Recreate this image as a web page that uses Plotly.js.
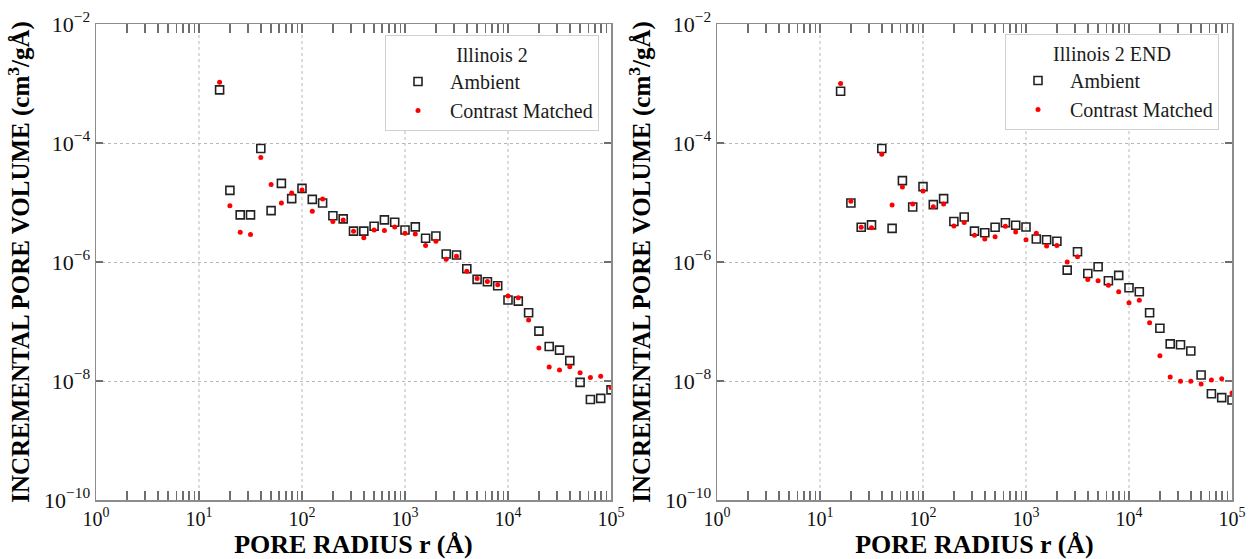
<!DOCTYPE html>
<html>
<head>
<meta charset="utf-8">
<script src="https://cdn.plot.ly/plotly-3.0.1.min.js"></script>
<style>html,body{margin:0;padding:0;background:#fff;}#chart{width:1248px;height:559px;}</style>
</head>
<body>
<div id="chart"></div>
<script>
// Pore radius r (Å)
const radius = [15.85, 19.95, 25.12, 31.62, 39.81, 50.12, 63.1, 79.43, 100, 125.9, 158.5, 199.5, 251.2, 316.2, 398.1, 501.2, 631, 794.3, 1000, 1259, 1585, 1995, 2512, 3162, 3981, 5012, 6310, 7943, 10000, 12589, 15849, 19953, 25119, 31623, 39811, 50119, 63096, 79433, 100000];

// Illinois 2
const ill2Ambient = [7.8e-4, 1.6e-5, 6.2e-6, 6.2e-6, 8.1e-5, 7.3e-6, 2.1e-5, 1.16e-5, 1.73e-5, 1.13e-5, 9.8e-6, 6.0e-6, 5.3e-6, 3.3e-6, 3.3e-6, 4.0e-6, 5.1e-6, 4.65e-6, 3.45e-6, 3.9e-6, 2.5e-6, 2.74e-6, 1.36e-6, 1.31e-6, 7.7e-7, 5.1e-7, 4.67e-7, 4.0e-7, 2.3e-7, 2.2e-7, 1.4e-7, 6.9e-8, 3.8e-8, 3.3e-8, 2.2e-8, 9.5e-9, 4.9e-9, 5.1e-9, 7.1e-9];
const ill2Contrast = [1.05e-3, 8.8e-6, 3.15e-6, 2.9e-6, 5.7e-5, 2.0e-5, 9.8e-6, 1.45e-5, 1.62e-5, 7.1e-6, 1.15e-5, 4.8e-6, 5.1e-6, 3.3e-6, 2.56e-6, 3.45e-6, 3.4e-6, 3.87e-6, 3.03e-6, 2.95e-6, 1.9e-6, 2.23e-6, 1.11e-6, 1.25e-6, 7.0e-7, 5.3e-7, 4.7e-7, 4.16e-7, 2.69e-7, 2.5e-7, 1.06e-7, 3.6e-8, 1.72e-8, 1.53e-8, 1.74e-8, 1.38e-8, 1.14e-8, 1.2e-8, 7.8e-9];

// Illinois 2 END
const ill2EndAmbient = [7.4e-4, 9.8e-6, 3.83e-6, 4.2e-6, 8.1e-5, 3.68e-6, 2.33e-5, 8.4e-6, 1.85e-5, 9.2e-6, 1.16e-5, 4.8e-6, 5.7e-6, 3.3e-6, 3.1e-6, 3.83e-6, 4.58e-6, 4.14e-6, 3.88e-6, 2.44e-6, 2.37e-6, 2.23e-6, 7.3e-7, 1.49e-6, 6.4e-7, 8.3e-7, 4.85e-7, 5.97e-7, 3.7e-7, 3.17e-7, 1.4e-7, 7.7e-8, 4.2e-8, 4.07e-8, 3.19e-8, 1.26e-8, 6.1e-9, 5.25e-9, 4.8e-9];
const ill2EndContrast = [1.0e-3, 1.05e-5, 3.83e-6, 3.78e-6, 6.5e-5, 9.1e-6, 1.82e-5, 9.4e-6, 1.56e-5, 8.5e-6, 9.4e-6, 4.03e-6, 4.6e-6, 2.81e-6, 2.44e-6, 2.66e-6, 3.98e-6, 3.19e-6, 2.37e-6, 3.03e-6, 1.86e-6, 1.9e-6, 1.0e-6, 1.23e-6, 5.1e-7, 4.85e-7, 4.06e-7, 3.17e-7, 2.07e-7, 2.27e-7, 9.5e-8, 2.66e-8, 1.17e-8, 9.9e-9, 9.9e-9, 8.9e-9, 1.04e-8, 1.09e-8, 6.3e-9];

const panelNames = ['Illinois 2', 'Illinois 2 END'];
const seriesNames = ['Ambient', 'Contrast Matched'];

const xDecades = [1, 10, 100, 1000, 10000, 100000];
const xDecadeText = ['10<sup>0</sup>', '10<sup>1</sup>', '10<sup>2</sup>', '10<sup>3</sup>', '10<sup>4</sup>', '10<sup>5</sup>'];
const yTickVals = [1e-10, 1e-8, 1e-6, 1e-4, 1e-2];
const yTickText = ['10<sup>\u221210</sup>', '10<sup>\u22128</sup>', '10<sup>\u22126</sup>', '10<sup>\u22124</sup>', '10<sup>\u22122</sup>'];

// x tick positions: every decade plus 2..9 within each decade (labels only at decades)
const xTickVals = [], xTickText = [];
xDecades.forEach((d, i) => {
  xTickVals.push(d); xTickText.push(xDecadeText[i]);
  if (i < xDecades.length - 1) for (let k = 2; k <= 9; k++) { xTickVals.push(k * d); xTickText.push(''); }
});

const serif = 'Liberation Serif, Times New Roman, serif';
const axisGray = '#8c8c8c';
const tickGray = '#6e6e6e';
const gridGray = '#b8b8b8';
const textColor = '#111';

function ambTrace(y, xa, ya, lg) {
  return {x: radius, y: y, xaxis: xa, yaxis: ya, legend: lg, name: seriesNames[0], type: 'scatter', mode: 'markers',
    marker: {symbol: 'square-open', size: 8, color: '#222', line: {width: 1.6, color: '#222'}}};
}
function conTrace(y, xa, ya, lg) {
  return {x: radius, y: y, xaxis: xa, yaxis: ya, legend: lg, name: seriesNames[1], type: 'scatter', mode: 'markers',
    marker: {symbol: 'circle', size: 5, color: '#ff0000'}};
}

const data = [
  ambTrace(ill2Ambient, 'x', 'y', 'legend'),
  conTrace(ill2Contrast, 'x', 'y', 'legend'),
  ambTrace(ill2EndAmbient, 'x2', 'y2', 'legend2'),
  conTrace(ill2EndContrast, 'x2', 'y2', 'legend2')
];

function xAxis(domain, anchor) {
  return {
    type: 'log', range: [0, 5], domain: domain, anchor: anchor,
    tickmode: 'array', tickvals: xTickVals, ticktext: xTickText,
    ticks: 'inside', ticklen: 9, tickcolor: tickGray, tickwidth: 1.3,
    showline: true, linecolor: axisGray, linewidth: 1.5, mirror: 'ticks',
    showgrid: false, zeroline: false, automargin: false,
    tickfont: {family: serif, size: 20, color: textColor},
    title: {text: 'PORE RADIUS r (\u00c5)', font: {family: serif, size: 26, color: '#000', weight: 'bold'}, standoff: 6}
  };
}
function yAxis(anchor) {
  return {
    type: 'log', range: [-10, -2], domain: [0, 1], anchor: anchor,
    tickmode: 'array', tickvals: yTickVals, ticktext: yTickText,
    ticks: 'inside', ticklen: 7, tickcolor: tickGray, tickwidth: 1.3,
    showline: true, linecolor: axisGray, linewidth: 1.5, mirror: 'ticks',
    showgrid: true, gridcolor: gridGray, griddash: 'dot', gridwidth: 1,
    zeroline: false, automargin: false,
    tickfont: {family: serif, size: 22, color: textColor},
    title: {text: 'INCREMENTAL PORE VOLUME (cm<sup>3</sup>/g\u00c5)', font: {family: serif, size: 25, color: '#000', weight: 'bold'}, standoff: 7}
  };
}

// vertical dotted grid lines at the inner decades
const shapes = [];
['x', 'x2'].forEach((xr, j) => {
  const yr = j === 0 ? 'y domain' : 'y2 domain';
  xDecades.slice(1, -1).forEach(d => {
    shapes.push({type: 'line', xref: xr, yref: yr, x0: d, x1: d, y0: 0, y1: 1,
      layer: 'below', line: {color: gridGray, width: 1, dash: 'dot'}});
  });
});

const W = 1248, H = 559;
const mL = 96, mR = 16, mT = 24, mB = 59;
const pw = W - mL - mR, ph = H - mT - mB;

function legendBox(px, py, title) {
  return {
    x: (px - mL) / pw, y: 1 - (py - mT) / ph, xanchor: 'left', yanchor: 'top', xref: 'paper', yref: 'paper',
    bgcolor: '#ffffff', bordercolor: '#d0d0d0', borderwidth: 1,
    font: {family: serif, size: 20, color: '#1a1a1a'},
    title: {text: title, side: 'top center', font: {family: serif, size: 20, color: '#1a1a1a'}},
    itemwidth: 54, tracegroupgap: 0
  };
}

const layout = {
  width: W, height: H,
  margin: {l: mL, r: mR, t: mT, b: mB, pad: 0},
  paper_bgcolor: '#ffffff', plot_bgcolor: '#ffffff',
  showlegend: true,
  xaxis: xAxis([0, 515 / pw], 'y'),
  yaxis: yAxis('x'),
  xaxis2: xAxis([(717 - mL) / pw, 1], 'y2'),
  yaxis2: yAxis('x2'),
  shapes: shapes,
  legend: legendBox(385, 35, panelNames[0]),
  legend2: legendBox(1005, 34, panelNames[1])
};

Plotly.newPlot('chart', data, layout, {displayModeBar: false, staticPlot: true});
</script>
</body>
</html>
